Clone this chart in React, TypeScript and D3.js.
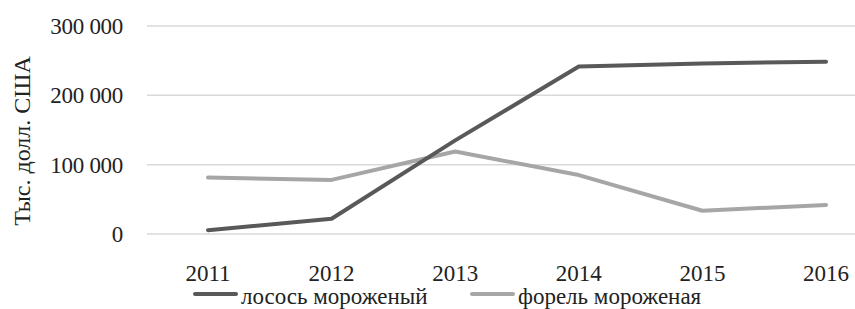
import React, { useEffect, useRef } from 'react';
import * as d3 from 'd3';

const years = ['2011', '2012', '2013', '2014', '2015', '2016'];
const salmon = [5500, 22000, 135000, 241500, 246000, 248500];
const trout = [81500, 78000, 119000, 85000, 33500, 42000];
const seriesNames = ['лосось мороженый', 'форель мороженая'];
const yTicks = [0, 100000, 200000, 300000];

const App = () => {
  const svgRef = useRef<SVGSVGElement>(null);

  useEffect(() => {
    const width = 855;
    const height = 309;
    const font = '"Liberation Serif", "Times New Roman", serif';

    const svg = d3.select(svgRef.current)
      .attr('width', width)
      .attr('height', height);
    svg.selectAll('*').remove();

    const x = d3.scalePoint<string>().domain(years).range([208, 826]);
    const y = d3.scaleLinear().domain([0, 300000]).range([234, 26]);

    // grid
    svg.append('g')
      .selectAll('line')
      .data(yTicks)
      .enter()
      .append('line')
      .attr('x1', 147)
      .attr('x2', width)
      .attr('y1', d => y(d))
      .attr('y2', d => y(d))
      .style('stroke', '#d9d9d9')
      .style('stroke-width', 1.5);

    const fmt = (v: number) => d3.format(',')(v).replace(/,/g, ' ');

    svg.append('g')
      .selectAll('text')
      .data(yTicks)
      .enter()
      .append('text')
      .attr('x', 123)
      .attr('y', d => y(d))
      .attr('dy', '0.35em')
      .attr('text-anchor', 'end')
      .text(d => fmt(d))
      .style('font-family', font)
      .style('font-size', '23px')
      .style('letter-spacing', '-0.3px')
      .style('fill', '#222');

    svg.append('g')
      .selectAll('text')
      .data(years)
      .enter()
      .append('text')
      .attr('x', d => x(d) as number)
      .attr('y', 281)
      .attr('text-anchor', 'middle')
      .text(d => d)
      .style('font-family', font)
      .style('font-size', '23px')
      .style('fill', '#222');

    svg.append('text')
      .attr('transform', 'translate(30,141) rotate(-90)')
      .attr('text-anchor', 'middle')
      .text('Тыс. долл. США')
      .style('font-family', font)
      .style('font-size', '24px')
      .style('fill', '#222');

    const line = d3.line<number>()
      .x((_, i) => x(years[i]) as number)
      .y(d => y(d));

    const colors = ['#595959', '#a6a6a6'];
    [trout, salmon].forEach((s, k) => {
      svg.append('path')
        .datum(s)
        .attr('d', line)
        .style('fill', 'none')
        .style('stroke', k === 0 ? colors[1] : colors[0])
        .style('stroke-width', 4)
        .style('stroke-linejoin', 'round')
        .style('stroke-linecap', 'round');
    });

    // legend
    const legendX = [195, 472];
    seriesNames.forEach((name, i) => {
      svg.append('line')
        .attr('x1', legendX[i])
        .attr('x2', legendX[i] + 41)
        .attr('y1', 294)
        .attr('y2', 294)
        .style('stroke', colors[i])
        .style('stroke-width', 4)
        .style('stroke-linecap', 'round');
      svg.append('text')
        .attr('x', legendX[i] + 46)
        .attr('y', 304)
        .text(name)
        .style('font-family', font)
        .style('font-size', '23px')
        .style('fill', '#222');
    });
  }, []);

  return (
    <svg ref={svgRef} style={{ position: 'absolute', left: 0, top: 0 }}></svg>
  );
};

export default App;
